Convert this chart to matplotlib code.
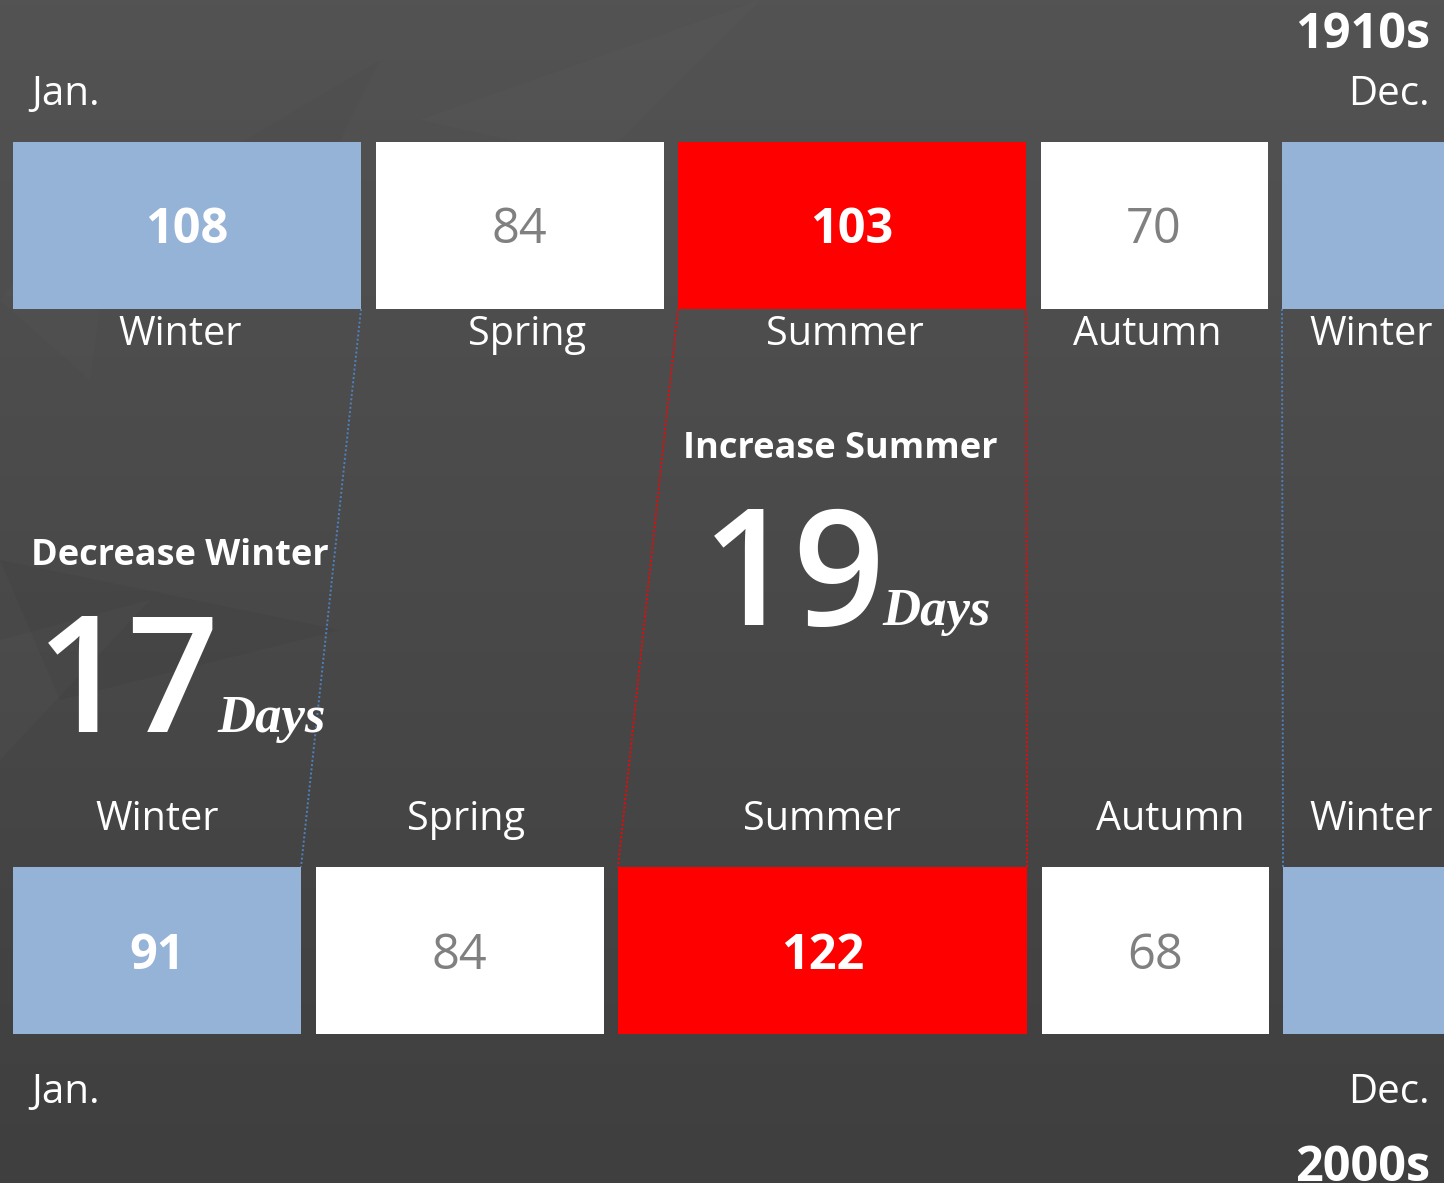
import numpy as np
import matplotlib.pyplot as plt
from matplotlib.patches import Rectangle, Polygon

# data
seasons = ['Winter', 'Spring', 'Summer', 'Autumn', 'Winter']
days_1910s = [108, 84, 103, 70, None]
days_2000s = [91, 84, 122, 68, None]
decades = ['1910s', '2000s']

winter_change = days_1910s[0] - days_2000s[0]
summer_change = days_2000s[2] - days_1910s[2]

# layout (pixels)
W, H = 1444, 1183
x0 = 13
top_widths = [348, 288, 348, 227, 200]
bot_widths = [288, 288, 409, 227, 200]
gap = 14.5
top_y, bot_y, box_h = 142, 867, 167
top_label_x = [180, 527, 845, 1147, 1371]
bot_label_x = [157, 466, 822, 1170, 1371]

season_color = {'Winter': '#95b3d7', 'Spring': '#ffffff', 'Summer': '#ff0000', 'Autumn': '#ffffff'}
value_color = {'Winter': 'white', 'Spring': '#808080', 'Summer': 'white', 'Autumn': '#808080'}
value_weight = {'Winter': 'bold', 'Spring': 'normal', 'Summer': 'bold', 'Autumn': 'normal'}

sans = ['Open Sans', 'DejaVu Sans']
serif = ['Liberation Serif', 'DejaVu Serif']


def starts(widths):
    s = [x0]
    for w in widths[:-1]:
        s.append(s[-1] + w + gap)
    return s


fig = plt.figure(figsize=(W / 100, H / 100), dpi=100)
ax = fig.add_axes([0, 0, 1, 1])
ax.set_xlim(0, W)
ax.set_ylim(H, 0)
ax.axis('off')

# background gradient
grad = np.linspace(0, 1, 256).reshape(-1, 1)
top_c = np.array([0x53, 0x53, 0x53]) / 255
bot_c = np.array([0x3f, 0x3f, 0x3f]) / 255
img = top_c + (bot_c - top_c) * grad[..., None]
ax.imshow(img, extent=[0, W, H, 0], aspect='auto', zorder=0)

# faint leaf shapes on the left
leaves = [
    ([(0, 560), (340, 630), (60, 700)], 'black', 0.04),
    ([(0, 640), (150, 600), (0, 760)], 'white', 0.02),
    ([(60, 250), (380, 60), (260, 300)], 'black', 0.025),
    ([(0, 300), (120, 160), (90, 380)], 'white', 0.015),
    ([(420, 120), (760, 0), (600, 160)], 'white', 0.012),
]
for pts, c, a in leaves:
    ax.add_patch(Polygon(pts, closed=True, facecolor=c, edgecolor='none', alpha=a, zorder=1))


def draw_row(widths, values, y, label_x, label_base, value_base):
    xs = starts(widths)
    for i, (s, w, v) in enumerate(zip(xs, widths, values)):
        ax.add_patch(Rectangle((s, y), w, box_h, facecolor=season_color[seasons[i]],
                               edgecolor='none', zorder=3))
        if v is not None:
            ax.text(s + w / 2, value_base, str(v), ha='center', va='baseline',
                    fontsize=35, family=sans, color=value_color[seasons[i]],
                    fontweight=value_weight[seasons[i]], zorder=4)
    for i, lx in enumerate(label_x):
        ax.text(lx, label_base, seasons[i], ha='center', va='baseline', fontsize=28.5,
                family=sans, color='white', zorder=4)
    return xs


top_x = draw_row(top_widths, days_1910s, top_y, top_label_x, 345, 243)
bot_x = draw_row(bot_widths, days_2000s, bot_y, bot_label_x, 830, 969)

# connectors
y1, y2 = top_y + box_h, bot_y
dot = dict(linestyle=(0, (1, 1.2)), linewidth=1.4, zorder=2)
ax.plot([top_x[0] + top_widths[0], bot_x[0] + bot_widths[0]], [y1, y2], color='#4f81bd', **dot)
ax.plot([top_x[2], bot_x[2]], [y1, y2], color='#ff0000', **dot)
ax.plot([top_x[2] + top_widths[2], bot_x[2] + bot_widths[2]], [y1, y2], color='#ff0000', **dot)
ax.plot([top_x[4], bot_x[4]], [y1, y2], color='#4f81bd', **dot)

# headers / footers
ax.text(1430, 48, decades[0], ha='right', va='baseline', fontsize=35, fontweight='bold',
        family=sans, color='white')
ax.text(31, 105, 'Jan.', ha='left', va='baseline', fontsize=29, family=sans, color='white')
ax.text(1430, 105, 'Dec.', ha='right', va='baseline', fontsize=29, family=sans, color='white')
ax.text(31, 1103, 'Jan.', ha='left', va='baseline', fontsize=29, family=sans, color='white')
ax.text(1430, 1103, 'Dec.', ha='right', va='baseline', fontsize=29, family=sans, color='white')
ax.text(1430, 1181, decades[1], ha='right', va='baseline', fontsize=35, fontweight='bold',
        family=sans, color='white')

# callouts
ax.text(180, 565, 'Decrease Winter', ha='center', va='baseline', fontsize=26,
        fontweight='bold', family=sans, color='white', zorder=5)
ax.text(36, 732, str(winter_change), ha='left', va='baseline', fontsize=116,
        fontweight='semibold', family=sans, color='white', zorder=5)
ax.text(217, 732, 'Days', ha='left', va='baseline', fontsize=38, fontweight='bold',
        fontstyle='italic', family=serif, color='white', zorder=5)

ax.text(840, 458, 'Increase Summer', ha='center', va='baseline', fontsize=26,
        fontweight='bold', family=sans, color='white', zorder=5)
ax.text(702, 625, str(summer_change), ha='left', va='baseline', fontsize=116,
        fontweight='semibold', family=sans, color='white', zorder=5)
ax.text(882, 625, 'Days', ha='left', va='baseline', fontsize=38, fontweight='bold',
        fontstyle='italic', family=serif, color='white', zorder=5)

fig.savefig('out.png', dpi=100)
